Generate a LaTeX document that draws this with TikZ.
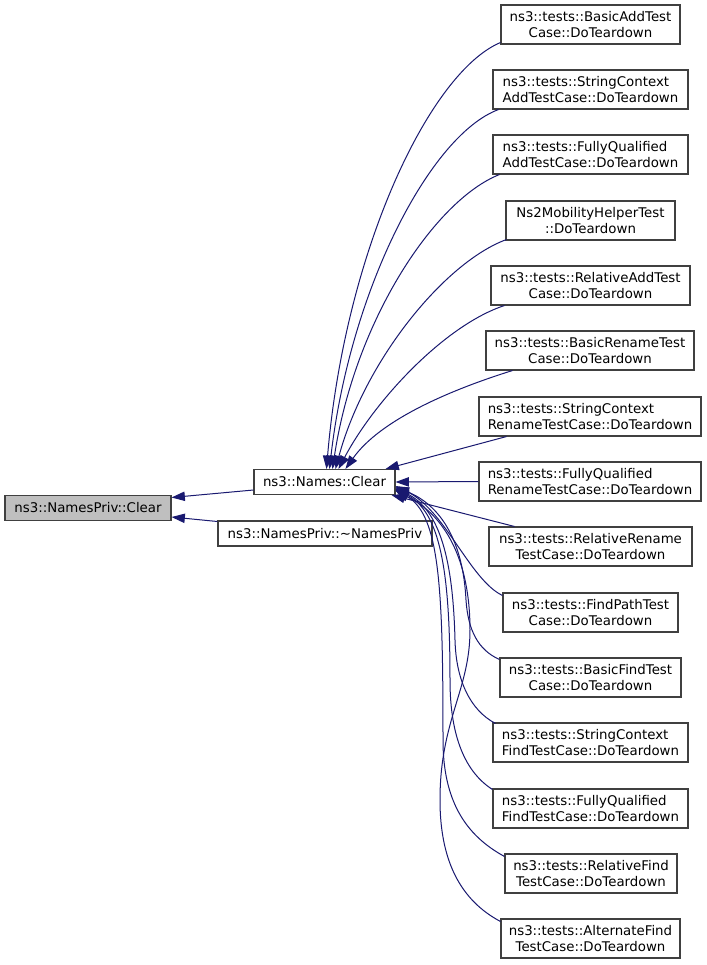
\documentclass[tikz,border=0pt]{standalone}
\usepackage{fontspec}
\setmainfont{DejaVu Sans}
\usetikzlibrary{arrows.meta}
\definecolor{edgec}{HTML}{191970}
\definecolor{boxc}{HTML}{404040}
\definecolor{rootc}{HTML}{BFBFBF}
\tikzset{
  box/.style={draw=boxc, line width=0.8pt, fill=white, inner xsep=0pt, inner ysep=0pt,
    minimum width=#1*0.75pt, minimum height=29.25pt, align=center,
    font=\fontsize{10}{11.8}\selectfont},
  lbox/.style={box=#1, align=left},
  sbox/.style={box=#1, minimum height=18.75pt},
  conn/.style={draw=edgec, line width=0.75pt, -{Triangle[length=10pt,width=7pt]}},
}
\begin{document}
\begin{tikzpicture}[x=0.75pt,y=-0.75pt]
\useasboundingbox (0,0) rectangle (707,965);
\fill[white] (0,0) rectangle (707,965);
% left nodes
\node[sbox=166, fill=rootc] (npc) at (88,508) {ns3::NamesPriv::Clear};
\node[sbox=141] (nc) at (324.5,482) {ns3::Names::Clear};
\node[sbox=214] (npd) at (325,533.5) {ns3::NamesPriv::\textasciitilde NamesPriv};
% right nodes
\node[box=179] (b1) at (590.5,24.5) {ns3::tests::BasicAddTest\\Case::DoTeardown};
\node[lbox=195] (b2) at (590.5,89.5) {ns3::tests::StringContext\\AddTestCase::DoTeardown};
\node[lbox=195] (b3) at (590.5,154.5) {ns3::tests::FullyQualified\\AddTestCase::DoTeardown};
\node[box=169] (b4) at (590.5,220.5) {Ns2MobilityHelperTest\\::DoTeardown};
\node[box=199] (b5) at (590.5,285.5) {ns3::tests::RelativeAddTest\\Case::DoTeardown};
\node[box=208] (b6) at (590,350.5) {ns3::tests::BasicRenameTest\\Case::DoTeardown};
\node[lbox=222] (b7) at (590,416.5) {ns3::tests::StringContext\\RenameTestCase::DoTeardown};
\node[lbox=222] (b8) at (590,481.5) {ns3::tests::FullyQualified\\RenameTestCase::DoTeardown};
\node[box=203] (b9) at (590.5,546.5) {ns3::tests::RelativeRename\\TestCase::DoTeardown};
\node[box=175] (b10) at (590.5,612.5) {ns3::tests::FindPathTest\\Case::DoTeardown};
\node[box=181] (b11) at (590.5,677.5) {ns3::tests::BasicFindTest\\Case::DoTeardown};
\node[lbox=195] (b12) at (590.5,742.5) {ns3::tests::StringContext\\FindTestCase::DoTeardown};
\node[lbox=195] (b13) at (590.5,808.5) {ns3::tests::FullyQualified\\FindTestCase::DoTeardown};
\node[box=172] (b14) at (591,873.5) {ns3::tests::RelativeFind\\TestCase::DoTeardown};
\node[box=179] (b15) at (590.5,938.5) {ns3::tests::AlternateFind\\TestCase::DoTeardown};
% left edges
\draw[conn] ([shift={(0,8)}]nc.west) -- ([shift={(0,-10.5)}]npc.east);
\draw[conn] ([shift={(0,-12)}]npd.west) -- ([shift={(0,9)}]npc.east);
% top curves
\draw[conn] ([shift={(0,-2)}]b1.south west) .. controls (430,72) and (345,250) .. ([shift={(73,0)}]nc.north west);
\draw[conn] ([shift={(6,0)}]b2.south west) .. controls (430,135) and (350,290) .. ([shift={(76,0)}]nc.north west);
\draw[conn] ([shift={(7,0)}]b3.south west) .. controls (435,200) and (355,320) .. ([shift={(79,0)}]nc.north west);
\draw[conn] ([shift={(1,-1)}]b4.south west) .. controls (445,262) and (365,360) .. ([shift={(82,0)}]nc.north west);
\draw[conn] ([shift={(14,0)}]b5.south west) .. controls (445,325) and (375,400) .. ([shift={(85,0)}]nc.north west);
\draw[conn] ([shift={(27,0)}]b6.south west) .. controls (450,390) and (380,420) .. ([shift={(92,0)}]nc.north west);
\draw[conn] ([shift={(28,0)}]b7.south west) -- ([shift={(-10,0)}]nc.north east);
\draw[conn] (b8.west) -- (nc.east);
\draw[conn] ([shift={(26,0)}]b9.north west) -- ([shift={(-4,0)}]nc.south east);
% find curves
\draw[conn] ([shift={(0,3)}]b10.north west) .. controls (470,580) and (445,510) .. ([shift={(0,4)}]nc.east);
\draw[conn] ([shift={(0,2)}]b11.north west) .. controls (478,650) and (468,630) .. (466,600) .. controls (463,540) and (440,505) .. ([shift={(0,5)}]nc.east);
\draw[conn] ([shift={(3,1)}]b12.north west) .. controls (470,710) and (456,680) .. (455,640) .. controls (453,560) and (440,510) .. ([shift={(0,6)}]nc.east);
\draw[conn] ([shift={(0,1)}]b13.north west) .. controls (462,770) and (450,730) .. (450,680) .. controls (450,570) and (440,512) .. ([shift={(0,7)}]nc.east);
\draw[conn] ([shift={(0,3)}]b14.north west) .. controls (465,835) and (443,800) .. (443,740) .. controls (443,590) and (440,515) .. ([shift={(0,8)}]nc.east);
\draw[conn] ([shift={(0,3)}]b15.north west) .. controls (460,900) and (440,860) .. (440,800) .. controls (440,720) and (470,690) .. (470,630) .. controls (470,560) and (445,515) .. ([shift={(0,9)}]nc.east);
\end{tikzpicture}
\end{document}
